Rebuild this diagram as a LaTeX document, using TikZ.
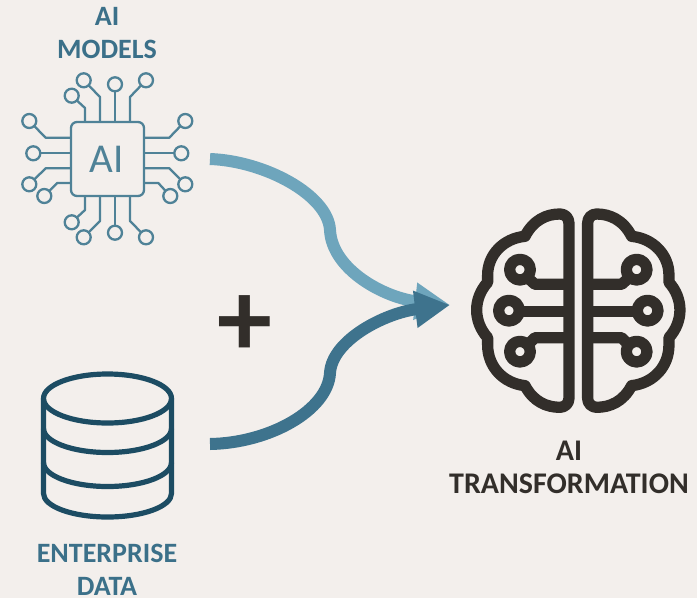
\documentclass[tikz,border=0pt]{standalone}
\usepackage{fontspec}
\setmainfont{Carlito}
\usetikzlibrary{arrows.meta}
\definecolor{paper}{HTML}{F3EFEC}
\definecolor{chipcol}{HTML}{4F8297}
\definecolor{labelcol}{HTML}{3B7089}
\definecolor{lightflow}{HTML}{6EA5BC}
\definecolor{darkflow}{HTML}{3E738D}
\definecolor{dbcol}{HTML}{1C4C63}
\definecolor{braincol}{HTML}{322E2A}
\tikzset{
	caption/.style={font=\fontsize{28}{33}\selectfont\bfseries, text=labelcol, align=center, inner sep=0pt},
	pinhead/.style={circle, draw=chipcol, fill=paper, line width=2.3pt, inner sep=0pt, minimum size=14pt},
	flow/.style={line width=12pt, -{Triangle[length=35pt,width=35pt]}}
}
\begin{document}
\begin{tikzpicture}[x=1pt, y=-1pt, line join=round]
	\fill[paper] (0,0) rectangle (697,598);
	\useasboundingbox (0,0) rectangle (697,598);
	% chip
	\foreach \i/\ax/\ay/\bx/\by/\cx/\cy in {
		1/85/122/85/108/71.7/95.7, 2/100/122/100/97/83.7/80.3, 3/115/122/115/97/115/84.3, 4/130/122/130/97/146/80.3,
		5/85/196/85/210/71.7/222.3, 6/100/196/100/221/83.7/237.3, 7/115/196/115/215/115/232.7, 8/130/196/130/221/146/237.3,
		9/71/137.7/45.7/137.7/29.3/121, 10/71/153.3/50/153.3/33.3/153.3, 11/71/168.3/45.7/168.3/29.3/184.3, 12/71/183/57.3/183/44.3/196,
		13/144/137.7/169.3/137.7/185.3/121, 14/144/153.3/165/153.3/181.3/153.3, 15/144/168.3/169.3/168.3/185.3/184.3, 16/144/183/158.3/183/170.3/196}{
		\draw[chipcol, line width=2.3pt] (\ax,\ay) -- (\bx,\by) -- (\cx,\cy);
		\node[pinhead] (pin\i) at (\cx,\cy) {};
	}
	\draw[chipcol, line width=2.3pt, fill=paper, rounded corners=6pt] (71,122) rectangle (144,196);
	\node[text=chipcol, font=\fontsize{41}{41}\selectfont, inner sep=0pt] (chiplabel) at (107,159) {AI};
	\node[caption] (modelslabel) at (107,33) {AI\\MODELS};
	% database
	\begin{scope}[dbcol, line width=5.2pt]
		\draw (107.5,398.5) ellipse[x radius=64, y radius=24.5];
		\draw (43.5,398.5) -- (43.5,493.5) arc[start angle=180, end angle=360, x radius=64, y radius=-23.5] -- (171.5,398.5);
		\draw (43.5,428.5) arc[start angle=180, end angle=360, x radius=64, y radius=-24];
		\draw (43.5,462.5) arc[start angle=180, end angle=360, x radius=64, y radius=-24];
	\end{scope}
	\node[caption] (datalabel) at (107,570) {ENTERPRISE\\DATA};
	% plus
	\node[font=\fontsize{110}{110}\selectfont\bfseries, text=braincol, inner sep=0pt] (plus) at (245,326) {+};
	% flows
	\coordinate (modelsout) at (210,159);
	\coordinate (dataout) at (210,444);
	\coordinate (braintip) at (450,305);
	\draw[flow, lightflow] (modelsout) .. controls (265,161) and (328,195) .. (330,230)
		.. controls (332,270) and (385,298) .. (braintip);
	\draw[flow, darkflow] (dataout) .. controls (270,443) and (328,410) .. (330,373)
		.. controls (332,340) and (385,313) .. (braintip);
	% brain
	\foreach \s in {1,-1}{
		\begin{scope}[shift={(578.3,195)}, x=\s*0.3333pt, y=-0.3333pt, braincol, line width=11.3pt]
			\draw (-28,610) -- (-28,85) .. controls (-28,68) and (-40,57) .. (-55,57)
				.. controls (-95,57) and (-135,75) .. (-160,124)
				.. controls (-225,130) and (-272,180) .. (-272,240) -- (-272,262)
				.. controls (-293,285) and (-305,315) .. (-305,345)
				.. controls (-305,375) and (-293,405) .. (-272,428) -- (-272,450)
				.. controls (-272,515) and (-225,565) .. (-160,572)
				.. controls (-135,620) and (-95,637) .. (-55,637)
				.. controls (-40,637) and (-28,625) .. (-28,610) -- cycle;
			\draw (-175,224) circle[radius=31];
			\draw (-208,347) circle[radius=31];
			\draw (-175,470) circle[radius=31];
			\draw (-28,268) -- (-130,268) -- (-150,250);
			\draw (-28,350) -- (-177,350);
			\draw (-28,428) -- (-130,428) -- (-150,448);
		\end{scope}
	}
	\node[caption, text=braincol, font=\fontsize{30}{33}\selectfont\bfseries] (brainlabel) at (569,467) {AI\\TRANSFORMATION};
\end{tikzpicture}
\end{document}
